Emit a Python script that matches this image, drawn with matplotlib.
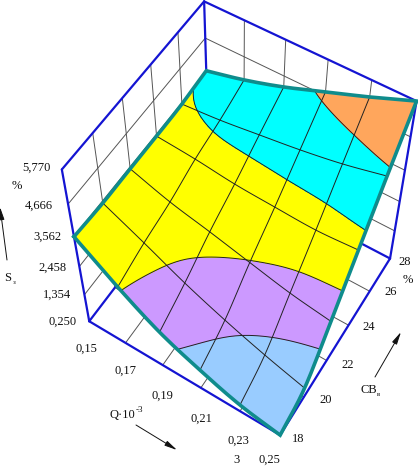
import numpy as np
import matplotlib
matplotlib.use("Agg")
import matplotlib.pyplot as plt
from matplotlib.colors import ListedColormap, BoundaryNorm

Q = [0.15, 0.17, 0.19, 0.21, 0.23, 0.25]
CB = [18, 20, 22, 24, 26, 28]
S_TICKS = [0.250, 1.354, 2.458, 3.562, 4.666, 5.770]
# S value of the surface: one row per CB, one column per Q
S_CB18 = [3.55, 2.53, 1.65, 1.03, 0.53, 0.25]
S_CB20 = [3.49, 2.84, 2.16, 1.58, 1.08, 0.65]
S_CB22 = [3.50, 3.07, 2.76, 2.43, 2.11, 1.89]
S_CB24 = [3.50, 3.40, 3.25, 3.18, 3.13, 3.21]
S_CB26 = [3.52, 3.63, 3.80, 3.98, 4.21, 4.52]
S_CB28 = [3.62, 3.93, 4.32, 4.79, 5.26, 5.77]
BAND_COLORS = ["#99CCFF", "#CC99FF", "#FFFF00", "#00FFFF", "#FFA65C"]

# Style
BLUE = "#1414D2"
TEAL = "#0F8C8C"
WALL = "#555555"
MESH = "#222222"
SERIF = "Liberation Serif"
# Camera of the box: normalised (q, c, s, 1) -> homogeneous pixels
CAMERA = np.array([[173.8289, 139.1619, -36.9368, 89.2292],
                   [87.3227, -142.0161, -177.9259, 321.2529],
                   [-0.061, 0.0922, -0.1543, 1.0]])


def project(q, c, s):
    q, c, s = np.broadcast_arrays(np.asarray(q, float), np.asarray(c, float), np.asarray(s, float))
    nq = (q - Q[0]) / (Q[-1] - Q[0])
    nc = (c - CB[0]) / (CB[-1] - CB[0])
    ns = (s - S_TICKS[0]) / (S_TICKS[-1] - S_TICKS[0])
    h = CAMERA @ np.stack([nq, nc, ns, np.ones_like(nq)], axis=0).reshape(4, -1)
    return (h[0] / h[2]).reshape(q.shape), (h[1] / h[2]).reshape(q.shape)


def smooth_1d(y, n):
    """Catmull-Rom through a row; the knots stay on the read values."""
    y = np.asarray(y, float)
    p = np.r_[2 * y[0] - y[1], y, 2 * y[-1] - y[-2]]
    t = np.linspace(0, len(y) - 1, (len(y) - 1) * n + 1)
    i = np.minimum(t.astype(int), len(y) - 2)
    u = t - i
    a, b, c, d = p[i], p[i + 1], p[i + 2], p[i + 3]
    return 0.5 * (2 * b + (c - a) * u + (2 * a - 5 * b + 4 * c - d) * u ** 2 + (3 * b - a - 3 * c + d) * u ** 3)


S = np.array([S_CB18, S_CB20, S_CB22, S_CB24, S_CB26, S_CB28])
N = 12
fine = np.array([smooth_1d(r, N) for r in S])
fine = np.array([smooth_1d(c, N) for c in fine.T]).T
fine = np.clip(fine, S_TICKS[0], S_TICKS[-1])
qf = np.linspace(Q[0], Q[-1], fine.shape[1])
cf = np.linspace(CB[0], CB[-1], fine.shape[0])
QQ, CC = np.meshgrid(qf, cf)
X, Y = project(QQ, CC, fine)

fig = plt.figure(figsize=(4.18, 4.67), dpi=100)
ax = fig.add_axes([0, 0, 1, 1])
ax.set_xlim(0, 418)
ax.set_ylim(467, 0)
ax.axis("off")


def seg(q, c, s, color, lw, z):
    ax.plot(*project(q, c, s), color=color, lw=lw, zorder=z, solid_capstyle="round")


# Thin grid on floor and the two walls
for q in Q[1:-1]:
    seg([q, q], [CB[0], CB[-1]], S_TICKS[0], WALL, 0.7, 1)
    seg([q, q], CB[-1], [S_TICKS[0], S_TICKS[-1]], WALL, 0.7, 1)
for c in CB[1:-1]:
    seg([Q[0], Q[-1]], [c, c], S_TICKS[0], WALL, 0.7, 1)
    seg(Q[0], [c, c], [S_TICKS[0], S_TICKS[-1]], WALL, 0.7, 1)
for s in S_TICKS[1:-1]:
    seg(Q[0], [CB[0], CB[-1]], [s, s], WALL, 0.7, 1)
    seg([Q[0], Q[-1]], CB[-1], [s, s], WALL, 0.7, 1)

# Blue box
lo, hi = S_TICKS[0], S_TICKS[-1]
seg([Q[0], Q[-1]], CB[0], [lo, lo], BLUE, 1.6, 2)
seg(Q[-1], [CB[0], CB[-1]], [lo, lo], BLUE, 1.6, 2)
seg([Q[-1], Q[0]], CB[-1], [lo, lo], BLUE, 1.6, 2)
seg(Q[0], [CB[-1], CB[0]], [lo, lo], BLUE, 1.6, 2)
seg(Q[0], CB[0], [lo, hi], BLUE, 1.6, 2)
seg(Q[0], CB[-1], [lo, hi], BLUE, 1.6, 2)
seg(Q[-1], CB[-1], [lo, hi], BLUE, 1.6, 2)
seg(Q[0], [CB[0], CB[-1]], [hi, hi], BLUE, 1.6, 2)
seg([Q[0], Q[-1]], CB[-1], [hi, hi], BLUE, 1.6, 2)

# Surface
norm = BoundaryNorm(S_TICKS, 5)
ax.contourf(X, Y, fine, levels=S_TICKS, cmap=ListedColormap(BAND_COLORS), norm=norm, zorder=3, extend="neither")
ax.contour(X, Y, fine, levels=S_TICKS[1:-1], colors=MESH, linewidths=0.7, zorder=4)
for k in range(1, 5):
    ax.plot(X[:, k * N], Y[:, k * N], color=MESH, lw=0.7, zorder=4)
    ax.plot(X[k * N, :], Y[k * N, :], color=MESH, lw=0.7, zorder=4)
rim_x = np.r_[X[0, :], X[:, -1], X[-1, ::-1], X[::-1, 0]]
rim_y = np.r_[Y[0, :], Y[:, -1], Y[-1, ::-1], Y[::-1, 0]]
ax.plot(rim_x, rim_y, color=TEAL, lw=2.6, zorder=5, solid_joinstyle="miter")

# Text layout (pixels)
S_LABEL_XY = [(77, 322), (71, 295), (67, 268), (62, 237), (53, 206), (51, 168)]
Q_LABEL_XY = [(86.5, 349), (125.5, 371), (162.5, 396), (201, 419), (238.5, 441), (269.5, 460)]
CB_LABEL_XY = [(298.5, 439), (325.5, 400), (348, 365), (368.5, 327), (391, 292), (405, 262)]


def txt(x, y, s, size=9, ha="center"):
    ax.text(x, y, s, family=SERIF, fontsize=size, ha=ha, va="center", color="#111111", zorder=6)


for v, (x, y) in zip(S_TICKS, S_LABEL_XY):
    txt(x, y, f"{v:.3f}".replace(".", ","), ha="right")
for v, (x, y) in zip(Q, Q_LABEL_XY):
    txt(x, y, f"{v:.2f}".replace(".", ","))
for v, (x, y) in zip(CB, CB_LABEL_XY):
    txt(x, y, str(v))
txt(17, 186, "%")
txt(408, 280, "%")
txt(8, 278, "S")
txt(14, 283, "з", size=5)
txt(122, 415, "Q·10")
txt(139, 410, "-3", size=6.5)
txt(369, 390, "CB")
txt(379, 394, "в", size=5)
txt(237, 460, "3")


def arrow(x0, y0, x1, y1):
    ax.annotate("", xy=(x1, y1), xytext=(x0, y0), zorder=6, annotation_clip=False,
                arrowprops=dict(arrowstyle="-|>,head_length=0.75,head_width=0.16", color="#111111",
                                lw=0.7, shrinkA=0, shrinkB=0))


arrow(7, 260, 0, 207)
arrow(136, 425, 177, 450)
arrow(375, 377, 401, 332)

fig.savefig("out.png", dpi=100)
